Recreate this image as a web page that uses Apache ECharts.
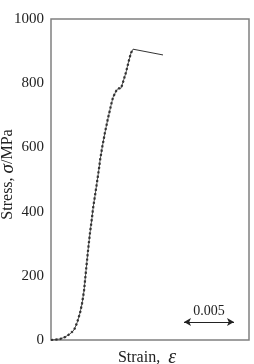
<!DOCTYPE html>
<html>
<head>
<meta charset="utf-8">
<script src="https://cdn.jsdelivr.net/npm/echarts@6/dist/echarts.min.js"></script>
<style>
  html, body { margin: 0; padding: 0; background: #fff; }
  #chart { width: 254px; height: 364px; }
</style>
</head>
<body>
<div id="chart"></div>
<script>
// loading part of the curve
var strainUp = [0, 0.0009, 0.0014, 0.0019, 0.0023, 0.0026, 0.0029, 0.0031, 0.0033, 0.0034,
                0.0035, 0.0036, 0.0037, 0.0039, 0.0041, 0.0042, 0.0044, 0.0046, 0.0048, 0.0049,
                0.0051, 0.0054, 0.0057, 0.0060, 0.0062, 0.0065, 0.0067, 0.0069, 0.0070, 0.0072,
                0.0075, 0.0078, 0.0080, 0.0082];
var stressUp = [0, 3, 9, 19, 31, 53, 84, 113, 153, 184,
                216, 247, 278, 334, 381, 409, 450, 491, 534, 559,
                597, 647, 691, 731, 756, 775, 784, 778, 784, 803,
                834, 872, 894, 906];

// after the peak
var strainDown = [0.0082, 0.0112];
var stressDown = [906, 888];

// scale bar: 0.005 of strain
var scaleBarX = [0.0133, 0.0183];
var scaleBarY = 56;
var scaleBarText = '0.005';

var yMin = 0, yMax = 1000, yStep = 200;

function pairs(xs, ys) {
    return xs.map(function(x, i) { return [x, ys[i]]; });
}

var serif = '"Liberation Serif", "DejaVu Serif", serif';

var chart = echarts.init(document.getElementById('chart'));

chart.setOption({
    animation: false,
    backgroundColor: '#fff',
    grid: {
        left: 51, right: 5, top: 19, bottom: 24,
        containLabel: false,
        outerBoundsMode: 'none',
        show: true,
        borderColor: '#808080',
        borderWidth: 1.5
    },
    xAxis: {
        type: 'value',
        min: 0,
        max: 0.0198,
        name: 'Strain,  {e|ε}',
        nameLocation: 'middle',
        nameGap: 8,
        nameMoveOverlap: false,
        nameTextStyle: {
            fontFamily: serif, fontSize: 16, color: '#222',
            verticalAlign: 'top',
            padding: [0, 6, 0, 0],
            rich: { e: { fontFamily: serif, fontStyle: 'italic', fontSize: 20, color: '#222' } }
        },
        axisLine: { show: false },
        axisTick: { show: false },
        axisLabel: { show: false },
        splitLine: { show: false }
    },
    yAxis: {
        type: 'value',
        min: yMin,
        max: yMax,
        interval: yStep,
        name: 'Stress, {s|σ}/MPa',
        nameLocation: 'middle',
        nameGap: 34,
        nameMoveOverlap: false,
        nameRotate: 90,
        nameTextStyle: {
            fontFamily: serif, fontSize: 16, color: '#222',
            padding: [0, 0, 0, 10],
            rich: { s: { fontFamily: serif, fontStyle: 'italic', fontSize: 19, color: '#222' } }
        },
        axisLine: { show: false },
        axisTick: { show: false },
        axisLabel: {
            fontFamily: serif, fontSize: 15, color: '#222', margin: 7,
            formatter: function(v) { return String(v); }
        },
        splitLine: { show: false }
    },
    series: [
        {
            type: 'line',
            data: pairs(strainUp, stressUp),
            showSymbol: false,
            lineStyle: { color: '#333', width: 2.2, type: 'dotted' },
            z: 3
        },
        {
            type: 'line',
            data: pairs(strainUp, stressUp),
            showSymbol: false,
            lineStyle: { color: '#555', width: 1 },
            z: 2
        },
        {
            type: 'line',
            data: pairs(strainDown, stressDown),
            showSymbol: false,
            lineStyle: { color: '#333', width: 1 },
            markLine: {
                silent: true,
                symbol: ['arrow', 'arrow'],
                symbolSize: [6, 7],
                lineStyle: { type: 'solid', color: '#222', width: 1 },
                label: {
                    show: true,
                    position: 'middle',
                    formatter: scaleBarText,
                    fontFamily: serif, fontSize: 14, color: '#222',
                    distance: 4
                },
                data: [[
                    { coord: [scaleBarX[0], scaleBarY] },
                    { coord: [scaleBarX[1], scaleBarY] }
                ]]
            }
        }
    ]
});
</script>
</body>
</html>
